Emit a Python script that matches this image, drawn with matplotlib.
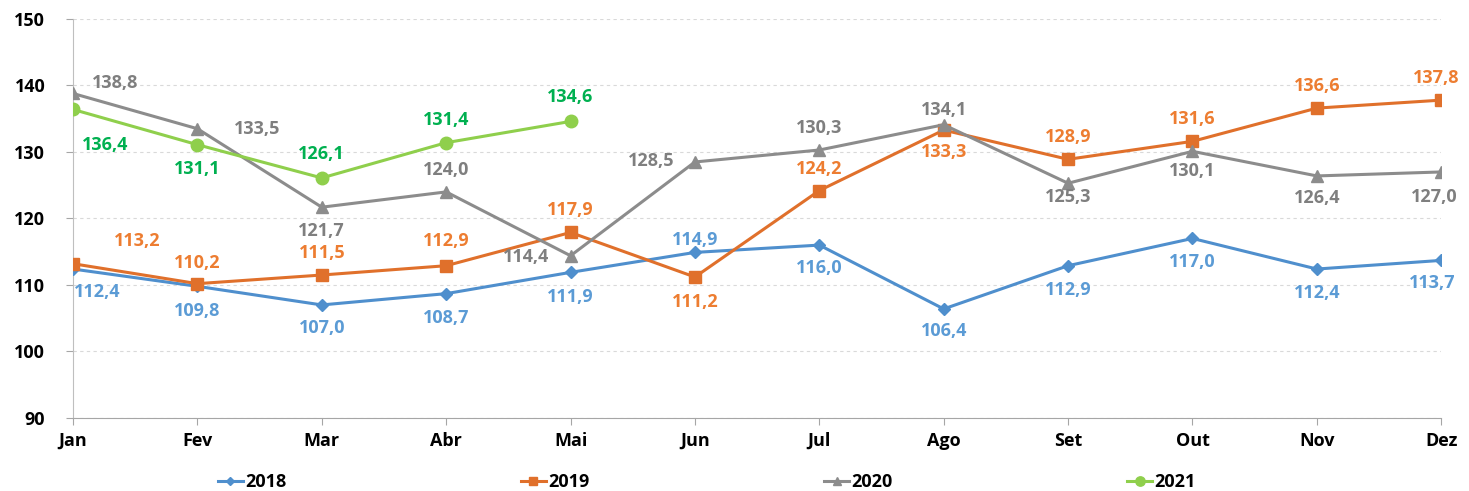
import matplotlib.pyplot as plt

months = ['Jan', 'Fev', 'Mar', 'Abr', 'Mai', 'Jun', 'Jul', 'Ago', 'Set', 'Out', 'Nov', 'Dez']
v2018 = [112.4, 109.8, 107.0, 108.7, 111.9, 114.9, 116.0, 106.4, 112.9, 117.0, 112.4, 113.7]
v2019 = [113.2, 110.2, 111.5, 112.9, 117.9, 111.2, 124.2, 133.3, 128.9, 131.6, 136.6, 137.8]
v2020 = [138.8, 133.5, 121.7, 124.0, 114.4, 128.5, 130.3, 134.1, 125.3, 130.1, 126.4, 127.0]
v2021 = [136.4, 131.1, 126.1, 131.4, 134.6]

# label offsets (pixels) relative to each point
off2018 = [(24, -23), (0, -25), (0, -23), (0, -24), (0, -25), (0, 12), (0, -23), (0, -22),
           (0, -24), (0, -24), (0, -24), (-9, -23)]
off2019 = [(64, 23), (0, 21), (0, 22), (0, 25), (0, 22), (0, -25), (0, 22), (0, -22),
           (0, 22), (0, 22), (0, 22), (-5, 22)]
off2020 = [(42, 10), (60, 0), (0, -24), (0, 22), (-44, -1), (-44, 1), (0, 22), (0, 15),
           (0, -14), (0, -20), (0, -22), (-7, -25)]
off2021 = [(32, -36), (0, -24), (0, 24), (0, 23), (0, 24)]

plt.rcParams['font.family'] = ['Open Sans', 'DejaVu Sans']
plt.rcParams['font.weight'] = 'bold'

fig = plt.figure(figsize=(14.69, 4.91), dpi=100)
ax = fig.add_axes([0.0497, 0.1487, 0.9314, 0.8126])

series = [
    ('2018', v2018, off2018, '#4F8FCD', '#5B9BD5', 'D', 6),
    ('2019', v2019, off2019, '#E0702B', '#ED7D31', 's', 8),
    ('2020', v2020, off2020, '#8C8C8C', '#7F7F7F', '^', 8),
    ('2021', v2021, off2021, '#8FCF4C', '#00B050', 'o', 9),
]

x_all = list(range(len(months)))
for name, vals, offs, lc, tc, mk, ms in series:
    xs = x_all[:len(vals)]
    ax.plot(xs, vals, color=lc, lw=2.2, marker=mk, markersize=ms, label=name, zorder=3)
    for xi, v, (dx, dy) in zip(xs, vals, offs):
        ax.annotate(f'{v:.1f}'.replace('.', ','), (xi, v), xytext=(dx * 0.72, dy * 0.72),
                    textcoords='offset points', ha='center', va='center',
                    color=tc, fontsize=13, fontweight='bold', zorder=4)

ax.set_xlim(0, 11)
ax.set_ylim(90, 150)
ax.set_yticks(range(90, 151, 10))
ax.set_xticks(x_all)
ax.set_xticklabels(months)
ax.tick_params(axis='both', labelsize=13, colors='#A6A6A6', labelcolor='black', length=5)
ax.tick_params(axis='x', pad=5)
ax.tick_params(axis='y', pad=15)
ax.grid(axis='y', color='#D9D9D9', linestyle=(0, (3, 3)), lw=0.8)
ax.set_axisbelow(True)
for s in ['top', 'right']:
    ax.spines[s].set_visible(False)
ax.spines['left'].set_color('#BFBFBF')
ax.spines['bottom'].set_color('#A6A6A6')

fig.legend(loc='center', bbox_to_anchor=(0.481, 0.018), ncol=4, frameon=False,
           fontsize=13, columnspacing=13.0, handlelength=1.4, handletextpad=0.1,
           markerscale=0.75)

fig.savefig('out.png', dpi=100)
